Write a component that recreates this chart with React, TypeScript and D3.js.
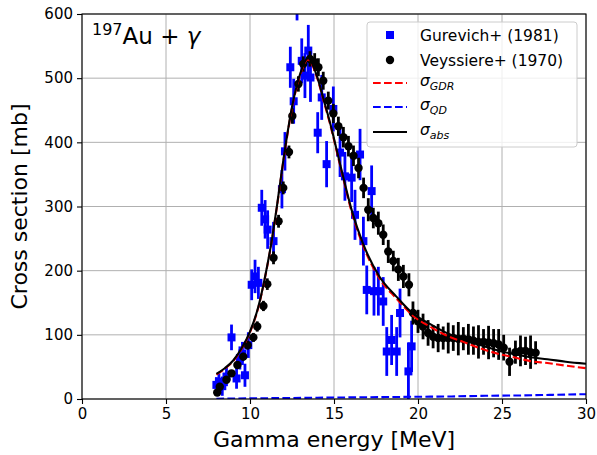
import { useEffect, useRef } from "react";
import * as d3 from "d3";

// Gurevich+ (1981) — blue squares
const gurevichEnergy = [8.0, 8.15, 8.35, 8.6, 8.9, 9.2, 9.4, 9.55, 9.7, 9.9, 10.1, 10.3, 10.5, 10.7, 10.9, 11.05, 11.4, 11.9, 12.08, 12.4, 12.6, 12.8, 13.08, 13.27, 13.47, 13.6, 14.03, 14.27, 14.56, 14.96, 15.36, 15.65, 16.05, 16.25, 16.55, 16.75, 16.95, 17.24, 17.38, 17.64, 17.93, 18.14, 18.43, 18.73, 18.93, 19.43, 19.62];
const gurevichXs = [22, 27, 20, 35, 96, 32, 64, 71, 37, 84, 178, 191, 181, 298, 280, 264, 246, 327, 386, 517, 464, 650, 527, 504, 543, 501, 415, 470, 366, 452, 384, 347, 345, 287, 381, 246, 170, 324, 168, 168, 152, 74, 92, 74, 134, 43, 82];
const gurevichErr = [12, 13, 15, 15, 20, 16, 18, 18, 18, 20, 24, 26, 25, 28, 30, 30, 30, 30, 30, 32, 35, 60, 35, 35, 40, 38, 32, 35, 36, 35, 38, 38, 38, 39, 40, 38, 38, 40, 38, 38, 38, 38, 39, 38, 38, 45, 40];

// Veyssiere+ (1970) — black circles
const veyssiereEnergy = [8.05, 8.2, 8.6, 8.9, 9.25, 9.6, 9.86, 10.2, 10.43, 10.8, 11.03, 11.4, 11.7, 11.98, 12.32, 12.52, 12.88, 13.17, 13.57, 13.85, 14.07, 14.36, 14.66, 14.96, 15.26, 15.56, 15.86, 16.16, 16.46, 16.76, 17.04, 17.34, 17.64, 17.93, 18.23, 18.53, 18.83, 19.13, 19.46, 19.7, 20.0, 20.3, 20.6, 20.9, 21.2, 21.5, 21.8, 22.1, 22.4, 22.7, 23.0, 23.3, 23.6, 23.9, 24.2, 24.5, 24.8, 25.1, 25.45, 25.8, 26.1, 26.4, 26.7, 27.0];
const veyssiereXs = [10, 19, 30, 40, 53, 66, 84, 96, 113, 145, 179, 220, 277, 329, 385, 441, 491, 522, 530, 525, 517, 496, 465, 445, 425, 408, 394, 379, 360, 329, 295, 282, 274, 256, 230, 215, 202, 191, 178, 134, 121, 113, 103, 97, 95, 95, 95, 95, 94, 94, 93, 91, 89, 89, 88, 87, 85, 80, 58, 73, 75, 75, 73, 72];
const veyssiereErr = [4, 4, 5, 5, 6, 6, 7, 7, 8, 8, 9, 10, 10, 10, 10, 12, 12, 12, 12, 14, 14, 14, 14, 15, 15, 16, 16, 16, 16, 16, 18, 16, 18, 16, 18, 16, 18, 18, 18, 18, 18, 20, 20, 18, 22, 18, 24, 20, 26, 18, 24, 22, 26, 20, 26, 22, 24, 20, 22, 18, 24, 22, 26, 18];

// model curves
const curveEnergy = [8.0, 8.5, 9.0, 9.5, 10.0, 10.5, 10.9, 11.3, 11.6, 12.0, 12.5, 13.0, 13.45, 14.0, 14.4, 14.75, 15.4, 16.1, 16.7, 17.7, 18.7, 19.7, 20.7, 21.7, 22.7, 23.7, 24.7, 25.7, 26.7, 27.7, 28.8, 30.0];
const sigmaAbs = [39, 48, 60, 79, 105, 144, 191, 248, 300, 375, 455, 508, 531, 502, 465, 432, 362, 290, 244, 191, 160, 133, 117, 103, 93, 84, 76, 70, 65, 62, 58, 55];
const sigmaGdr = [38, 47, 59, 78, 104, 143, 190, 247, 299, 373, 453, 506, 529, 500, 463, 430, 360, 287, 241, 188, 157, 130, 113, 99, 89, 79, 71, 65, 59, 56, 52, 48];
const qdEnergy = [8, 10, 12, 14, 16, 18, 20, 22, 24, 26, 28, 30];
const sigmaQd = [0.5, 1, 1.5, 2, 2.5, 3, 3.5, 4, 5, 5.5, 6.5, 7.5];

const xTicks = [0, 5, 10, 15, 20, 25, 30];
const yTicks = [0, 100, 200, 300, 400, 500, 600];

export default function App() {
  const ref = useRef<SVGSVGElement | null>(null);

  useEffect(() => {
    const width = 597;
    const height = 455;
    const margin = { top: 14, right: 11, bottom: 56, left: 82 };
    const font = "DejaVu Sans, sans-serif";

    const svg = d3.select(ref.current);
    svg.selectAll("*").remove();

    const x = d3.scaleLinear().domain([0, 30]).range([margin.left, width - margin.right]);
    const y = d3.scaleLinear().domain([0, 600]).range([height - margin.bottom, margin.top]);

    svg.append("rect").attr("width", width).attr("height", height).attr("fill", "#fff");

    svg.append("clipPath").attr("id", "plot")
      .append("rect")
      .attr("x", margin.left).attr("y", margin.top)
      .attr("width", x(30) - x(0)).attr("height", y(0) - y(600));

    // grid
    const grid = svg.append("g").attr("stroke", "#b0b0b0").attr("stroke-width", 1);
    grid.selectAll(".gx").data(xTicks).join("line")
      .attr("x1", d => x(d)).attr("x2", d => x(d))
      .attr("y1", y(0)).attr("y2", y(600));
    grid.selectAll(".gy").data(yTicks).join("line")
      .attr("x1", x(0)).attr("x2", x(30))
      .attr("y1", d => y(d)).attr("y2", d => y(d));

    const plot = svg.append("g").attr("clip-path", "url(#plot)");

    // Gurevich error bars + squares
    plot.append("g").selectAll("line")
      .data(gurevichEnergy.map((e, i) => [e, gurevichXs[i], gurevichErr[i]]))
      .join("line")
      .attr("x1", d => x(d[0])).attr("x2", d => x(d[0]))
      .attr("y1", d => y(d[1] - d[2])).attr("y2", d => y(d[1] + d[2]))
      .attr("stroke", "#0000ff").attr("stroke-width", 2.8);
    plot.append("g").selectAll("rect")
      .data(gurevichEnergy.map((e, i) => [e, gurevichXs[i]]))
      .join("rect")
      .attr("x", d => x(d[0]) - 4).attr("y", d => y(d[1]) - 4)
      .attr("width", 8).attr("height", 8)
      .attr("fill", "#0000ff");

    // Veyssiere error bars + circles
    plot.append("g").selectAll("line")
      .data(veyssiereEnergy.map((e, i) => [e, veyssiereXs[i], veyssiereErr[i]]))
      .join("line")
      .attr("x1", d => x(d[0])).attr("x2", d => x(d[0]))
      .attr("y1", d => y(d[1] - d[2])).attr("y2", d => y(d[1] + d[2]))
      .attr("stroke", "#000").attr("stroke-width", 2.8);
    plot.append("g").selectAll("circle")
      .data(veyssiereEnergy.map((e, i) => [e, veyssiereXs[i]]))
      .join("circle")
      .attr("cx", d => x(d[0])).attr("cy", d => y(d[1]))
      .attr("r", 4.2)
      .attr("fill", "#000");

    // model curves
    const line = d3.line<number[]>()
      .x(d => x(d[0])).y(d => y(d[1]))
      .curve(d3.curveMonotoneX);

    plot.append("path")
      .attr("d", line(curveEnergy.map((e, i) => [e, sigmaGdr[i]])))
      .attr("fill", "none").attr("stroke", "#ff0000").attr("stroke-width", 2.1)
      .attr("stroke-dasharray", "7.7,3.3");
    plot.append("path")
      .attr("d", line(qdEnergy.map((e, i) => [e, sigmaQd[i]])))
      .attr("fill", "none").attr("stroke", "#0000ff").attr("stroke-width", 2.1)
      .attr("stroke-dasharray", "7.7,3.3");
    plot.append("path")
      .attr("d", line(curveEnergy.map((e, i) => [e, sigmaAbs[i]])))
      .attr("fill", "none").attr("stroke", "#000").attr("stroke-width", 2.1);

    // axes
    const xAxis = svg.append("g")
      .attr("transform", `translate(0,${y(0)})`)
      .call(d3.axisBottom(x).tickValues(xTicks).tickSize(5).tickPadding(4).tickFormat(d3.format("d")));
    const yAxis = svg.append("g")
      .attr("transform", `translate(${x(0)},0)`)
      .call(d3.axisLeft(y).tickValues(yTicks).tickSize(5).tickPadding(4).tickFormat(d3.format("d")));
    [xAxis, yAxis].forEach(g => {
      g.select(".domain").remove();
      g.selectAll("text").attr("font-family", font).attr("font-size", 15).attr("fill", "#000");
      g.selectAll("line").attr("stroke", "#000").attr("stroke-width", 1.1);
    });

    // frame
    svg.append("rect")
      .attr("x", x(0)).attr("y", y(600))
      .attr("width", x(30) - x(0)).attr("height", y(0) - y(600))
      .attr("fill", "none").attr("stroke", "#000").attr("stroke-width", 1.1);

    // axis labels
    svg.append("text")
      .attr("x", (x(0) + x(30)) / 2).attr("y", 447)
      .attr("text-anchor", "middle")
      .attr("font-family", font).attr("font-size", 22)
      .text("Gamma energy [MeV]");
    svg.append("text")
      .attr("transform", `translate(27,${(y(0) + y(600)) / 2}) rotate(-90)`)
      .attr("text-anchor", "middle")
      .attr("font-family", font).attr("font-size", 22)
      .text("Cross section [mb]");

    // title
    const title = svg.append("text")
      .attr("x", 92).attr("y", 44)
      .attr("font-family", font).attr("font-size", 23);
    title.append("tspan").attr("font-size", 16).attr("dy", -9).text("197");
    title.append("tspan").attr("dy", 9).text("Au + ");
    title.append("tspan").attr("font-style", "italic").text("γ");

    // legend
    const lg = svg.append("g");
    lg.append("rect")
      .attr("x", 367).attr("y", 22).attr("width", 210).attr("height", 125)
      .attr("rx", 3)
      .attr("fill", "#fff").attr("fill-opacity", 0.8)
      .attr("stroke", "#cccccc").attr("stroke-width", 1);

    const rows = [35, 60, 83, 107, 132];
    lg.append("rect").attr("x", 386).attr("y", rows[0] - 4).attr("width", 8).attr("height", 8).attr("fill", "#0000ff");
    lg.append("circle").attr("cx", 390).attr("cy", rows[1]).attr("r", 4.2).attr("fill", "#000");
    lg.append("line").attr("x1", 373).attr("x2", 407).attr("y1", rows[2]).attr("y2", rows[2])
      .attr("stroke", "#ff0000").attr("stroke-width", 2.1).attr("stroke-dasharray", "7.7,3.3");
    lg.append("line").attr("x1", 373).attr("x2", 407).attr("y1", rows[3]).attr("y2", rows[3])
      .attr("stroke", "#0000ff").attr("stroke-width", 2.1).attr("stroke-dasharray", "7.7,3.3");
    lg.append("line").attr("x1", 373).attr("x2", 407).attr("y1", rows[4]).attr("y2", rows[4])
      .attr("stroke", "#000").attr("stroke-width", 2.1);

    const labels = ["Gurevich+ (1981)", "Veyssiere+ (1970)"];
    labels.forEach((t, i) => {
      lg.append("text").attr("x", 420).attr("y", rows[i] + 5.5)
        .attr("font-family", font).attr("font-size", 15.5).text(t);
    });
    const subs = ["GDR", "QD", "abs"];
    subs.forEach((s, i) => {
      const t = lg.append("text").attr("x", 420).attr("y", rows[i + 2] + 3)
        .attr("font-family", font).attr("font-size", 15.5).attr("font-style", "italic");
      t.append("tspan").text("σ");
      t.append("tspan").attr("font-size", 11).attr("dy", 4).text(s);
    });
  }, []);

  return (
    <svg
      ref={ref}
      width={597}
      height={455}
      style={{ position: "absolute", left: 0, top: 0, display: "block" }}
    />
  );
}
